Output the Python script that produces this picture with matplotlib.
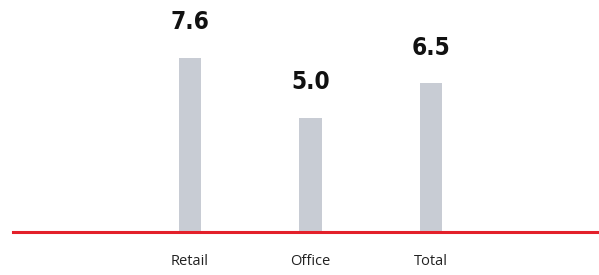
import numpy as np
import matplotlib.pyplot as plt

categories = ["Retail", "Office", "Total"]
values = [7.6, 5.0, 6.5]

bar_color = "#c8ccd4"
line_color = "#e3202a"

fig = plt.figure(figsize=(5.99, 2.75), dpi=100)
ax = fig.add_axes([0.0217, 0.156, 0.9783, 0.844])

x = np.arange(1, len(categories) + 1)
bars = ax.bar(x, values, width=0.19, color=bar_color, zorder=2)

# value labels above the bars
for b, v in zip(bars, values):
    ax.annotate(f"{v:.1f}", (b.get_x() + b.get_width() / 2, v),
                xytext=(0, 17), textcoords="offset points",
                ha="center", va="bottom", fontsize=17.5, fontweight="bold",
                fontstretch="condensed", family="DejaVu Sans", color="#111111")

ax.set_xlim(-0.469, 4.394)
ax.set_ylim(0, 10.13)
ax.axhline(0, color=line_color, lw=2.2, zorder=3, clip_on=False)

ax.set_xticks(x)
ax.set_xticklabels(categories, fontsize=10.5, family="Open Sans", color="#222222")
ax.tick_params(axis="x", length=0, pad=16)
ax.set_yticks([])
for s in ax.spines.values():
    s.set_visible(False)

fig.savefig("out.png", dpi=100)
